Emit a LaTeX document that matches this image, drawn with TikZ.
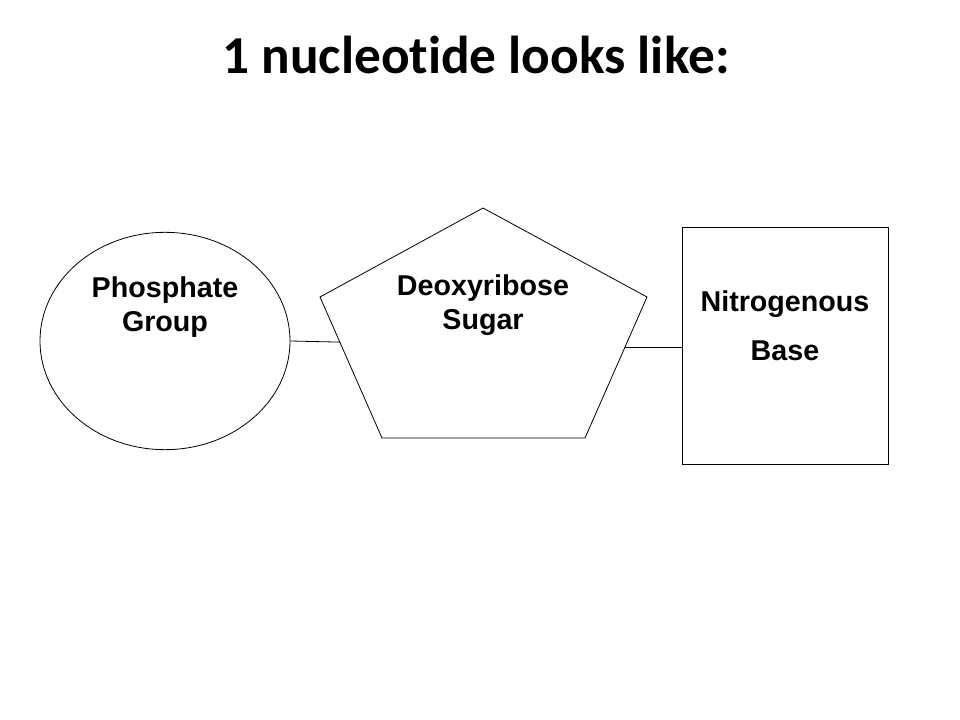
\documentclass[tikz,border=0pt]{standalone}
\usepackage{fontspec}
\setmainfont{Liberation Sans}
\newfontfamily\titlefont[Ligatures=NoCommon]{Carlito}
\usetikzlibrary{shapes.geometric,calc}

\begin{document}
\begin{tikzpicture}[x=0.75pt,y=-0.75pt,
	part/.style={draw,line width=0.6pt,inner sep=0pt},
	lbl/.style={font=\bfseries\fontsize{21.5}{26}\selectfont,align=center}]
		\useasboundingbox (0,0) rectangle (960,720);
		\node[font=\titlefont\bfseries\fontsize{40}{48}\selectfont,anchor=base] (title) at (476,74) {1 nucleotide looks like:}; %Title
		\node[part,ellipse,minimum width=187.5pt,minimum height=163pt] (phos) at (165,341) {}; %Phosphate
		\node[part,rectangle,minimum width=154.5pt,minimum height=177.75pt] (base) at (785,345.5) {}; %Base
		\coordinate (top) at (483,208);
		\coordinate (ur) at (647,297);
		\coordinate (br) at (585,438);
		\coordinate (bl) at (382,438);
		\coordinate (ul) at (320,297);
		\draw[part] (top)--(ur)--(br)--(bl)--(ul)--cycle; %Sugar
		\coordinate (sugarL) at ($(ul)!0.32!(bl)$);
		\coordinate (sugarR) at ($(ur)!0.355!(br)$);
		\draw[line width=0.6pt] (phos.east)--(sugarL);
		\draw[line width=0.6pt] (sugarR)--(sugarR -| base.west);
		\node[lbl] (phosT) at (165,307) {Phosphate\\Group};
		\node[lbl] (sugarT) at (483,305) {Deoxyribose\\Sugar};
		\node[lbl,font=\bfseries\fontsize{21.5}{37}\selectfont] (baseT) at (785,326) {Nitrogenous\\Base};
	\end{tikzpicture}
\end{document}
